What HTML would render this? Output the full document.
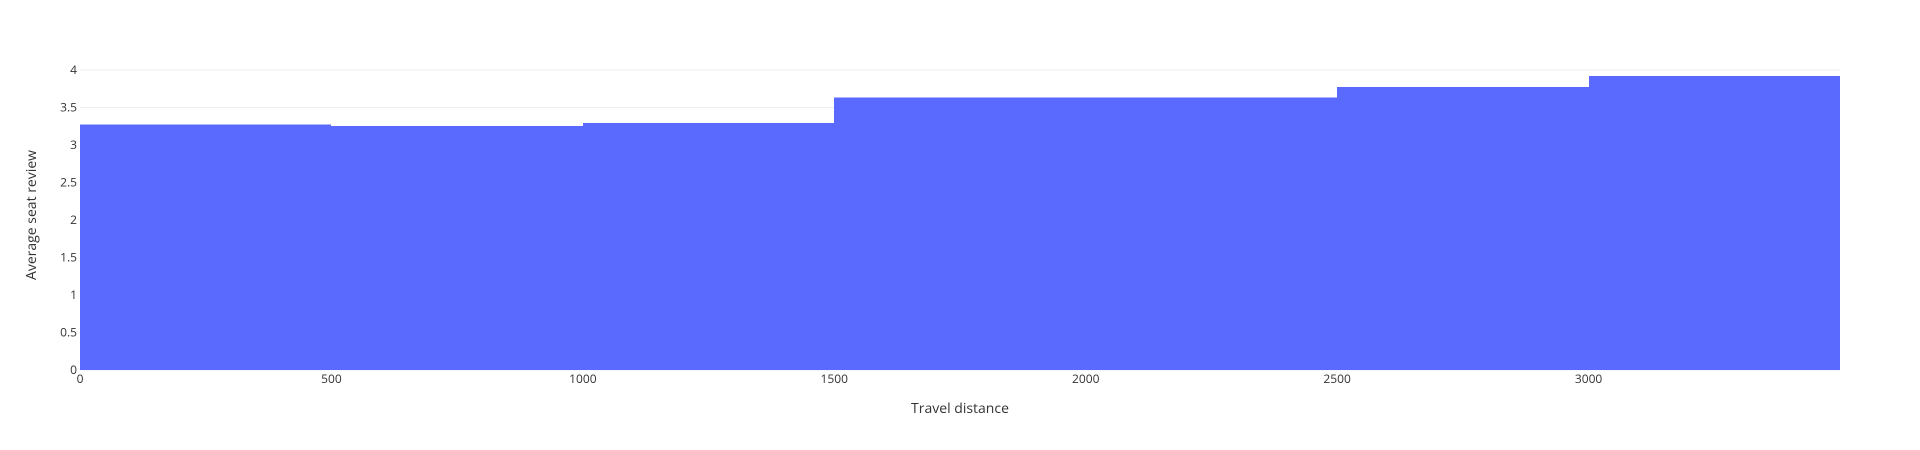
<!DOCTYPE html>
<html><head><meta charset="utf-8"><style>
html,body{margin:0;padding:0;background:#fff;width:1920px;height:450px;overflow:hidden}
text{font-family:"Open Sans","Liberation Sans",sans-serif;fill:#333}
</style></head><body>
<svg id="chart" width="1920" height="450" xmlns="http://www.w3.org/2000/svg">
<g id="grid"></g>
<g id="bars" shape-rendering="crispEdges"></g>
<g id="xticks"></g>
<g id="yticks"></g>
<text x="960" y="413" text-anchor="middle" font-size="14">Travel distance</text>
<text transform="translate(36,215) rotate(-90)" text-anchor="middle" font-size="14">Average seat review</text>
</svg>
<script>
const binStarts = [0, 500, 1000, 1500, 2500, 3000];
const binEnds = [500, 1000, 1500, 2500, 3000, 3500];
const values = [3.27, 3.25, 3.29, 3.63, 3.77, 3.92];
const xTicks = [0, 500, 1000, 1500, 2000, 2500, 3000];
const yTicks = [0, 0.5, 1, 1.5, 2, 2.5, 3, 3.5, 4];

const NS = 'http://www.w3.org/2000/svg';
const L = 80, R = 1840, T = 60, B = 370;
const xMax = 3500, yMax = 4.1333;
const xs = v => L + (v / xMax) * (R - L);
const ys = v => B - (v / yMax) * (B - T);
function mk(tag, attrs, parent) {
  const e = document.createElementNS(NS, tag);
  for (const k in attrs) e.setAttribute(k, attrs[k]);
  parent.appendChild(e);
  return e;
}
const grid = document.getElementById('grid');
const bars = document.getElementById('bars');
const xt = document.getElementById('xticks');
const yt = document.getElementById('yticks');

yTicks.forEach(v => {
  const ln = mk('line', {x1: L, x2: R, y1: ys(v), y2: ys(v), stroke: '#eeeeee', 'stroke-width': 1}, grid);
  
  
  const t = mk('text', {x: L - 3, y: ys(v) + 4, 'text-anchor': 'end', 'font-size': 12}, yt);
  t.textContent = String(v);
  
  
});
values.forEach((v, i) => {
  const x0 = Math.round(xs(binStarts[i])), x1 = Math.round(xs(binEnds[i]));
  const r = mk('rect', {x: x0, y: ys(v), width: x1 - x0, height: ys(0) - ys(v), fill: '#5a6aff'}, bars);
  
  
});
xTicks.forEach(v => {
  const t = mk('text', {x: xs(v), y: 383, 'text-anchor': 'middle', 'font-size': 12}, xt);
  t.textContent = String(v);
  
  
});
</script>
</body></html>
